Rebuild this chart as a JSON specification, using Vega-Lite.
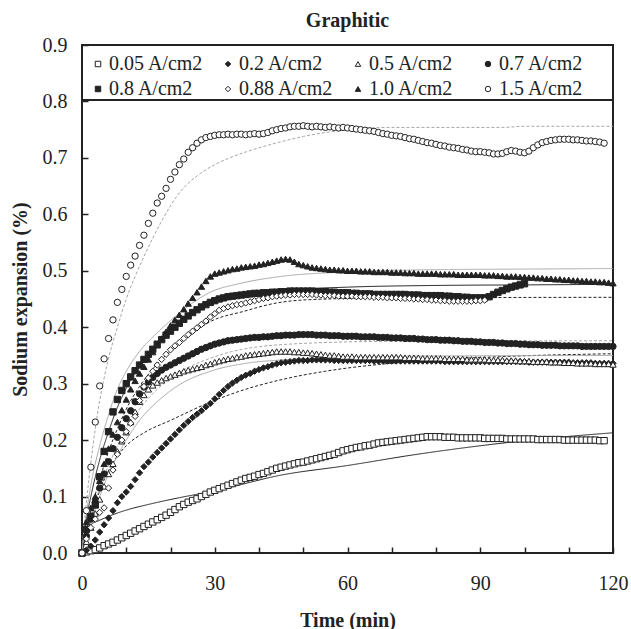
{
"$schema": "https://vega.github.io/schema/vega-lite/v6.json",
"width": 531, "height": 508,
"autosize": {"type": "none"},
"padding": {"left": 82, "top": 45, "right": 18, "bottom": 76},
"background": "white",
"title": {"text": "Graphitic", "font": "Liberation Serif", "fontSize": 20, "fontWeight": "bold", "color": "#222", "offset": 4, "anchor": "middle"},
"datasets": {
"fits": [
{"f":"F005","t":0,"v":0},{"f":"F005","t":0.3,"v":0.025},{"f":"F005","t":1,"v":0.04},{"f":"F005","t":2,"v":0.05},{"f":"F005","t":4,"v":0.058},{"f":"F005","t":7,"v":0.068},{"f":"F005","t":10,"v":0.076},{"f":"F005","t":15,"v":0.086},{"f":"F005","t":22,"v":0.098},{"f":"F005","t":30,"v":0.11},{"f":"F005","t":45,"v":0.138},{"f":"F005","t":60,"v":0.155},{"f":"F005","t":75,"v":0.174},{"f":"F005","t":90,"v":0.19},{"f":"F005","t":105,"v":0.203},{"f":"F005","t":120,"v":0.213},
{"f":"F02","t":0,"v":0},{"f":"F02","t":1,"v":0.03},{"f":"F02","t":2,"v":0.06},{"f":"F02","t":4,"v":0.11},{"f":"F02","t":7,"v":0.16},{"f":"F02","t":10,"v":0.19},{"f":"F02","t":14,"v":0.213},{"f":"F02","t":20,"v":0.235},{"f":"F02","t":28,"v":0.264},{"f":"F02","t":35,"v":0.285},{"f":"F02","t":45,"v":0.307},{"f":"F02","t":55,"v":0.322},{"f":"F02","t":67,"v":0.334},{"f":"F02","t":80,"v":0.342},{"f":"F02","t":95,"v":0.348},{"f":"F02","t":120,"v":0.353},
{"f":"F05","t":0,"v":0},{"f":"F05","t":1,"v":0.03},{"f":"F05","t":2,"v":0.055},{"f":"F05","t":4,"v":0.1},{"f":"F05","t":6,"v":0.14},{"f":"F05","t":8,"v":0.172},{"f":"F05","t":10,"v":0.2},{"f":"F05","t":13,"v":0.235},{"f":"F05","t":17,"v":0.268},{"f":"F05","t":22,"v":0.298},{"f":"F05","t":29,"v":0.322},{"f":"F05","t":37,"v":0.336},{"f":"F05","t":45,"v":0.342},{"f":"F05","t":60,"v":0.347},{"f":"F05","t":80,"v":0.349},{"f":"F05","t":120,"v":0.35},
{"f":"F07","t":0,"v":0},{"f":"F07","t":1,"v":0.035},{"f":"F07","t":2,"v":0.065},{"f":"F07","t":4,"v":0.115},{"f":"F07","t":6,"v":0.155},{"f":"F07","t":8,"v":0.19},{"f":"F07","t":10,"v":0.22},{"f":"F07","t":13,"v":0.255},{"f":"F07","t":17,"v":0.29},{"f":"F07","t":22,"v":0.32},{"f":"F07","t":29,"v":0.345},{"f":"F07","t":37,"v":0.362},{"f":"F07","t":52,"v":0.372},{"f":"F07","t":70,"v":0.375},{"f":"F07","t":120,"v":0.376},
{"f":"F08","t":0,"v":0},{"f":"F08","t":0.5,"v":0.03},{"f":"F08","t":1,"v":0.06},{"f":"F08","t":2,"v":0.1},{"f":"F08","t":4,"v":0.165},{"f":"F08","t":6,"v":0.215},{"f":"F08","t":8,"v":0.258},{"f":"F08","t":10,"v":0.292},{"f":"F08","t":13,"v":0.333},{"f":"F08","t":17,"v":0.373},{"f":"F08","t":22,"v":0.41},{"f":"F08","t":29,"v":0.44},{"f":"F08","t":36,"v":0.455},{"f":"F08","t":45,"v":0.465},{"f":"F08","t":60,"v":0.471},{"f":"F08","t":80,"v":0.474},{"f":"F08","t":100,"v":0.475},{"f":"F08","t":120,"v":0.476},
{"f":"F088","t":0,"v":0},{"f":"F088","t":1,"v":0.04},{"f":"F088","t":2,"v":0.075},{"f":"F088","t":4,"v":0.13},{"f":"F088","t":6,"v":0.18},{"f":"F088","t":8,"v":0.22},{"f":"F088","t":10,"v":0.255},{"f":"F088","t":13,"v":0.295},{"f":"F088","t":17,"v":0.335},{"f":"F088","t":22,"v":0.37},{"f":"F088","t":29,"v":0.41},{"f":"F088","t":36.5,"v":0.428},{"f":"F088","t":44,"v":0.443},{"f":"F088","t":52,"v":0.449},{"f":"F088","t":70,"v":0.452},{"f":"F088","t":120,"v":0.453},
{"f":"F10","t":0,"v":0},{"f":"F10","t":0.5,"v":0.04},{"f":"F10","t":1,"v":0.07},{"f":"F10","t":2,"v":0.12},{"f":"F10","t":4,"v":0.19},{"f":"F10","t":6,"v":0.245},{"f":"F10","t":8,"v":0.29},{"f":"F10","t":10,"v":0.322},{"f":"F10","t":13,"v":0.357},{"f":"F10","t":17,"v":0.39},{"f":"F10","t":22,"v":0.425},{"f":"F10","t":29,"v":0.462},{"f":"F10","t":36,"v":0.478},{"f":"F10","t":45,"v":0.49},{"f":"F10","t":60,"v":0.498},{"f":"F10","t":80,"v":0.502},{"f":"F10","t":100,"v":0.503},{"f":"F10","t":120,"v":0.504},
{"f":"F15","t":0,"v":0},{"f":"F15","t":0.5,"v":0.05},{"f":"F15","t":1,"v":0.09},{"f":"F15","t":2,"v":0.16},{"f":"F15","t":3,"v":0.22},{"f":"F15","t":4,"v":0.27},{"f":"F15","t":5,"v":0.31},{"f":"F15","t":6,"v":0.345},{"f":"F15","t":8,"v":0.4},{"f":"F15","t":10,"v":0.45},{"f":"F15","t":12,"v":0.49},{"f":"F15","t":14,"v":0.525},{"f":"F15","t":16,"v":0.558},{"f":"F15","t":18,"v":0.588},{"f":"F15","t":20,"v":0.615},{"f":"F15","t":22,"v":0.638},{"f":"F15","t":24,"v":0.655},{"f":"F15","t":26.7,"v":0.672},{"f":"F15","t":30,"v":0.688},{"f":"F15","t":33.4,"v":0.7},{"f":"F15","t":38,"v":0.713},{"f":"F15","t":44.7,"v":0.728},{"f":"F15","t":50,"v":0.738},{"f":"F15","t":56,"v":0.746},{"f":"F15","t":62,"v":0.751},{"f":"F15","t":70,"v":0.754},{"f":"F15","t":95,"v":0.754},{"f":"F15","t":100,"v":0.756},{"f":"F15","t":120,"v":0.756}
],
"pts": [
{"s":"0.05 A/cm2","t":0,"v":0},{"s":"0.05 A/cm2","t":1,"v":0.002},{"s":"0.05 A/cm2","t":2,"v":0.004},{"s":"0.05 A/cm2","t":3,"v":0.006},{"s":"0.05 A/cm2","t":4,"v":0.009},{"s":"0.05 A/cm2","t":5,"v":0.013},{"s":"0.05 A/cm2","t":6,"v":0.016},{"s":"0.05 A/cm2","t":7,"v":0.019},{"s":"0.05 A/cm2","t":8,"v":0.023},{"s":"0.05 A/cm2","t":9,"v":0.027},{"s":"0.05 A/cm2","t":10,"v":0.031},{"s":"0.05 A/cm2","t":11,"v":0.035},{"s":"0.05 A/cm2","t":12,"v":0.039},{"s":"0.05 A/cm2","t":13,"v":0.043},{"s":"0.05 A/cm2","t":14,"v":0.047},{"s":"0.05 A/cm2","t":15,"v":0.051},{"s":"0.05 A/cm2","t":16,"v":0.055},{"s":"0.05 A/cm2","t":17,"v":0.059},{"s":"0.05 A/cm2","t":18,"v":0.063},{"s":"0.05 A/cm2","t":19,"v":0.067},{"s":"0.05 A/cm2","t":20,"v":0.072},{"s":"0.05 A/cm2","t":21,"v":0.077},{"s":"0.05 A/cm2","t":22,"v":0.082},{"s":"0.05 A/cm2","t":23,"v":0.086},{"s":"0.05 A/cm2","t":24,"v":0.09},{"s":"0.05 A/cm2","t":25,"v":0.093},{"s":"0.05 A/cm2","t":26,"v":0.096},{"s":"0.05 A/cm2","t":27,"v":0.1},{"s":"0.05 A/cm2","t":28,"v":0.104},{"s":"0.05 A/cm2","t":29,"v":0.108},{"s":"0.05 A/cm2","t":30,"v":0.111},{"s":"0.05 A/cm2","t":31,"v":0.114},{"s":"0.05 A/cm2","t":32,"v":0.117},{"s":"0.05 A/cm2","t":33,"v":0.12},{"s":"0.05 A/cm2","t":34,"v":0.123},{"s":"0.05 A/cm2","t":35,"v":0.126},{"s":"0.05 A/cm2","t":36,"v":0.129},{"s":"0.05 A/cm2","t":37,"v":0.132},{"s":"0.05 A/cm2","t":38,"v":0.134},{"s":"0.05 A/cm2","t":39,"v":0.136},{"s":"0.05 A/cm2","t":40,"v":0.139},{"s":"0.05 A/cm2","t":41,"v":0.141},{"s":"0.05 A/cm2","t":42,"v":0.144},{"s":"0.05 A/cm2","t":43,"v":0.147},{"s":"0.05 A/cm2","t":44,"v":0.15},{"s":"0.05 A/cm2","t":45,"v":0.152},{"s":"0.05 A/cm2","t":46,"v":0.154},{"s":"0.05 A/cm2","t":47,"v":0.156},{"s":"0.05 A/cm2","t":48,"v":0.158},{"s":"0.05 A/cm2","t":49,"v":0.16},{"s":"0.05 A/cm2","t":50,"v":0.161},{"s":"0.05 A/cm2","t":51,"v":0.163},{"s":"0.05 A/cm2","t":52,"v":0.165},{"s":"0.05 A/cm2","t":53,"v":0.167},{"s":"0.05 A/cm2","t":54,"v":0.169},{"s":"0.05 A/cm2","t":55,"v":0.171},{"s":"0.05 A/cm2","t":56,"v":0.173},{"s":"0.05 A/cm2","t":57,"v":0.175},{"s":"0.05 A/cm2","t":58,"v":0.178},{"s":"0.05 A/cm2","t":59,"v":0.181},{"s":"0.05 A/cm2","t":60,"v":0.183},{"s":"0.05 A/cm2","t":61,"v":0.185},{"s":"0.05 A/cm2","t":62,"v":0.187},{"s":"0.05 A/cm2","t":63,"v":0.188},{"s":"0.05 A/cm2","t":64,"v":0.19},{"s":"0.05 A/cm2","t":65,"v":0.191},{"s":"0.05 A/cm2","t":66,"v":0.193},{"s":"0.05 A/cm2","t":67,"v":0.195},{"s":"0.05 A/cm2","t":68,"v":0.196},{"s":"0.05 A/cm2","t":69,"v":0.197},{"s":"0.05 A/cm2","t":70,"v":0.198},{"s":"0.05 A/cm2","t":71,"v":0.199},{"s":"0.05 A/cm2","t":72,"v":0.2},{"s":"0.05 A/cm2","t":73,"v":0.201},{"s":"0.05 A/cm2","t":74,"v":0.202},{"s":"0.05 A/cm2","t":75,"v":0.203},{"s":"0.05 A/cm2","t":76,"v":0.204},{"s":"0.05 A/cm2","t":77,"v":0.205},{"s":"0.05 A/cm2","t":78,"v":0.206},{"s":"0.05 A/cm2","t":79,"v":0.206},{"s":"0.05 A/cm2","t":80,"v":0.206},{"s":"0.05 A/cm2","t":81,"v":0.206},{"s":"0.05 A/cm2","t":82,"v":0.205},{"s":"0.05 A/cm2","t":83,"v":0.205},{"s":"0.05 A/cm2","t":84,"v":0.205},{"s":"0.05 A/cm2","t":85,"v":0.204},{"s":"0.05 A/cm2","t":86,"v":0.204},{"s":"0.05 A/cm2","t":87,"v":0.204},{"s":"0.05 A/cm2","t":88,"v":0.204},{"s":"0.05 A/cm2","t":89,"v":0.204},{"s":"0.05 A/cm2","t":90,"v":0.204},{"s":"0.05 A/cm2","t":91,"v":0.203},{"s":"0.05 A/cm2","t":92,"v":0.203},{"s":"0.05 A/cm2","t":93,"v":0.203},{"s":"0.05 A/cm2","t":94,"v":0.203},{"s":"0.05 A/cm2","t":95,"v":0.203},{"s":"0.05 A/cm2","t":96,"v":0.202},{"s":"0.05 A/cm2","t":97,"v":0.202},{"s":"0.05 A/cm2","t":98,"v":0.202},{"s":"0.05 A/cm2","t":99,"v":0.202},{"s":"0.05 A/cm2","t":100,"v":0.202},{"s":"0.05 A/cm2","t":101,"v":0.202},{"s":"0.05 A/cm2","t":102,"v":0.202},{"s":"0.05 A/cm2","t":103,"v":0.201},{"s":"0.05 A/cm2","t":104,"v":0.201},{"s":"0.05 A/cm2","t":105,"v":0.201},{"s":"0.05 A/cm2","t":106,"v":0.201},{"s":"0.05 A/cm2","t":107,"v":0.201},{"s":"0.05 A/cm2","t":108,"v":0.201},{"s":"0.05 A/cm2","t":109,"v":0.2},{"s":"0.05 A/cm2","t":110,"v":0.2},{"s":"0.05 A/cm2","t":111,"v":0.2},{"s":"0.05 A/cm2","t":112,"v":0.2},{"s":"0.05 A/cm2","t":113,"v":0.2},{"s":"0.05 A/cm2","t":114,"v":0.2},{"s":"0.05 A/cm2","t":115,"v":0.2},{"s":"0.05 A/cm2","t":116,"v":0.2},{"s":"0.05 A/cm2","t":117,"v":0.199},{"s":"0.05 A/cm2","t":118,"v":0.199},
{"s":"0.2 A/cm2","t":0,"v":0},{"s":"0.2 A/cm2","t":1,"v":0.005},{"s":"0.2 A/cm2","t":2,"v":0.012},{"s":"0.2 A/cm2","t":3,"v":0.023},{"s":"0.2 A/cm2","t":4,"v":0.037},{"s":"0.2 A/cm2","t":5,"v":0.05},{"s":"0.2 A/cm2","t":6,"v":0.062},{"s":"0.2 A/cm2","t":7,"v":0.075},{"s":"0.2 A/cm2","t":8,"v":0.089},{"s":"0.2 A/cm2","t":9,"v":0.1},{"s":"0.2 A/cm2","t":10,"v":0.108},{"s":"0.2 A/cm2","t":11,"v":0.118},{"s":"0.2 A/cm2","t":12,"v":0.13},{"s":"0.2 A/cm2","t":13,"v":0.142},{"s":"0.2 A/cm2","t":14,"v":0.153},{"s":"0.2 A/cm2","t":15,"v":0.161},{"s":"0.2 A/cm2","t":16,"v":0.17},{"s":"0.2 A/cm2","t":17,"v":0.178},{"s":"0.2 A/cm2","t":18,"v":0.186},{"s":"0.2 A/cm2","t":19,"v":0.194},{"s":"0.2 A/cm2","t":20,"v":0.202},{"s":"0.2 A/cm2","t":21,"v":0.21},{"s":"0.2 A/cm2","t":22,"v":0.218},{"s":"0.2 A/cm2","t":23,"v":0.226},{"s":"0.2 A/cm2","t":24,"v":0.233},{"s":"0.2 A/cm2","t":25,"v":0.24},{"s":"0.2 A/cm2","t":26,"v":0.246},{"s":"0.2 A/cm2","t":27,"v":0.252},{"s":"0.2 A/cm2","t":28,"v":0.259},{"s":"0.2 A/cm2","t":29,"v":0.265},{"s":"0.2 A/cm2","t":30,"v":0.273},{"s":"0.2 A/cm2","t":31,"v":0.281},{"s":"0.2 A/cm2","t":32,"v":0.288},{"s":"0.2 A/cm2","t":33,"v":0.295},{"s":"0.2 A/cm2","t":34,"v":0.301},{"s":"0.2 A/cm2","t":35,"v":0.306},{"s":"0.2 A/cm2","t":36,"v":0.311},{"s":"0.2 A/cm2","t":37,"v":0.315},{"s":"0.2 A/cm2","t":38,"v":0.318},{"s":"0.2 A/cm2","t":39,"v":0.322},{"s":"0.2 A/cm2","t":40,"v":0.325},{"s":"0.2 A/cm2","t":41,"v":0.328},{"s":"0.2 A/cm2","t":42,"v":0.33},{"s":"0.2 A/cm2","t":43,"v":0.333},{"s":"0.2 A/cm2","t":44,"v":0.335},{"s":"0.2 A/cm2","t":45,"v":0.337},{"s":"0.2 A/cm2","t":46,"v":0.338},{"s":"0.2 A/cm2","t":47,"v":0.339},{"s":"0.2 A/cm2","t":48,"v":0.34},{"s":"0.2 A/cm2","t":49,"v":0.341},{"s":"0.2 A/cm2","t":50,"v":0.341},{"s":"0.2 A/cm2","t":51,"v":0.341},{"s":"0.2 A/cm2","t":52,"v":0.342},{"s":"0.2 A/cm2","t":53,"v":0.342},{"s":"0.2 A/cm2","t":54,"v":0.342},{"s":"0.2 A/cm2","t":55,"v":0.342},{"s":"0.2 A/cm2","t":56,"v":0.342},{"s":"0.2 A/cm2","t":57,"v":0.341},{"s":"0.2 A/cm2","t":58,"v":0.341},{"s":"0.2 A/cm2","t":59,"v":0.341},{"s":"0.2 A/cm2","t":60,"v":0.341},{"s":"0.2 A/cm2","t":61,"v":0.341},{"s":"0.2 A/cm2","t":62,"v":0.341},{"s":"0.2 A/cm2","t":63,"v":0.341},{"s":"0.2 A/cm2","t":64,"v":0.341},{"s":"0.2 A/cm2","t":65,"v":0.341},{"s":"0.2 A/cm2","t":66,"v":0.34},{"s":"0.2 A/cm2","t":67,"v":0.34},{"s":"0.2 A/cm2","t":68,"v":0.34},{"s":"0.2 A/cm2","t":69,"v":0.34},{"s":"0.2 A/cm2","t":70,"v":0.34},{"s":"0.2 A/cm2","t":71,"v":0.34},{"s":"0.2 A/cm2","t":72,"v":0.34},{"s":"0.2 A/cm2","t":73,"v":0.34},{"s":"0.2 A/cm2","t":74,"v":0.34},{"s":"0.2 A/cm2","t":75,"v":0.34},{"s":"0.2 A/cm2","t":76,"v":0.34},{"s":"0.2 A/cm2","t":77,"v":0.34},{"s":"0.2 A/cm2","t":78,"v":0.34},{"s":"0.2 A/cm2","t":79,"v":0.34},{"s":"0.2 A/cm2","t":80,"v":0.34},{"s":"0.2 A/cm2","t":81,"v":0.34},{"s":"0.2 A/cm2","t":82,"v":0.339},{"s":"0.2 A/cm2","t":83,"v":0.339},{"s":"0.2 A/cm2","t":84,"v":0.339},{"s":"0.2 A/cm2","t":85,"v":0.339},{"s":"0.2 A/cm2","t":86,"v":0.339},{"s":"0.2 A/cm2","t":87,"v":0.339},{"s":"0.2 A/cm2","t":88,"v":0.339},{"s":"0.2 A/cm2","t":89,"v":0.339},{"s":"0.2 A/cm2","t":90,"v":0.339},{"s":"0.2 A/cm2","t":91,"v":0.339},{"s":"0.2 A/cm2","t":92,"v":0.339},{"s":"0.2 A/cm2","t":93,"v":0.339},{"s":"0.2 A/cm2","t":94,"v":0.339},{"s":"0.2 A/cm2","t":95,"v":0.339},{"s":"0.2 A/cm2","t":96,"v":0.339},{"s":"0.2 A/cm2","t":97,"v":0.339},{"s":"0.2 A/cm2","t":98,"v":0.339},{"s":"0.2 A/cm2","t":99,"v":0.339},{"s":"0.2 A/cm2","t":100,"v":0.339},{"s":"0.2 A/cm2","t":101,"v":0.338},{"s":"0.2 A/cm2","t":102,"v":0.338},{"s":"0.2 A/cm2","t":103,"v":0.338},{"s":"0.2 A/cm2","t":104,"v":0.338},{"s":"0.2 A/cm2","t":105,"v":0.338},{"s":"0.2 A/cm2","t":106,"v":0.338},{"s":"0.2 A/cm2","t":107,"v":0.338},{"s":"0.2 A/cm2","t":108,"v":0.338},{"s":"0.2 A/cm2","t":109,"v":0.338},{"s":"0.2 A/cm2","t":110,"v":0.338},{"s":"0.2 A/cm2","t":111,"v":0.337},{"s":"0.2 A/cm2","t":112,"v":0.337},{"s":"0.2 A/cm2","t":113,"v":0.337},{"s":"0.2 A/cm2","t":114,"v":0.337},{"s":"0.2 A/cm2","t":115,"v":0.337},{"s":"0.2 A/cm2","t":116,"v":0.336},{"s":"0.2 A/cm2","t":117,"v":0.336},{"s":"0.2 A/cm2","t":118,"v":0.336},{"s":"0.2 A/cm2","t":119,"v":0.336},{"s":"0.2 A/cm2","t":120,"v":0.336},
{"s":"0.5 A/cm2","t":0,"v":0},{"s":"0.5 A/cm2","t":1,"v":0.02},{"s":"0.5 A/cm2","t":2,"v":0.045},{"s":"0.5 A/cm2","t":3,"v":0.07},{"s":"0.5 A/cm2","t":4,"v":0.095},{"s":"0.5 A/cm2","t":5,"v":0.118},{"s":"0.5 A/cm2","t":6,"v":0.14},{"s":"0.5 A/cm2","t":7,"v":0.158},{"s":"0.5 A/cm2","t":8,"v":0.18},{"s":"0.5 A/cm2","t":9,"v":0.198},{"s":"0.5 A/cm2","t":10,"v":0.214},{"s":"0.5 A/cm2","t":11,"v":0.232},{"s":"0.5 A/cm2","t":12,"v":0.25},{"s":"0.5 A/cm2","t":13,"v":0.268},{"s":"0.5 A/cm2","t":14,"v":0.28},{"s":"0.5 A/cm2","t":15,"v":0.29},{"s":"0.5 A/cm2","t":16,"v":0.297},{"s":"0.5 A/cm2","t":17,"v":0.302},{"s":"0.5 A/cm2","t":18,"v":0.306},{"s":"0.5 A/cm2","t":19,"v":0.31},{"s":"0.5 A/cm2","t":20,"v":0.313},{"s":"0.5 A/cm2","t":21,"v":0.316},{"s":"0.5 A/cm2","t":22,"v":0.319},{"s":"0.5 A/cm2","t":23,"v":0.322},{"s":"0.5 A/cm2","t":24,"v":0.324},{"s":"0.5 A/cm2","t":25,"v":0.326},{"s":"0.5 A/cm2","t":26,"v":0.328},{"s":"0.5 A/cm2","t":27,"v":0.33},{"s":"0.5 A/cm2","t":28,"v":0.333},{"s":"0.5 A/cm2","t":29,"v":0.335},{"s":"0.5 A/cm2","t":30,"v":0.338},{"s":"0.5 A/cm2","t":31,"v":0.34},{"s":"0.5 A/cm2","t":32,"v":0.342},{"s":"0.5 A/cm2","t":33,"v":0.344},{"s":"0.5 A/cm2","t":34,"v":0.345},{"s":"0.5 A/cm2","t":35,"v":0.347},{"s":"0.5 A/cm2","t":36,"v":0.348},{"s":"0.5 A/cm2","t":37,"v":0.35},{"s":"0.5 A/cm2","t":38,"v":0.351},{"s":"0.5 A/cm2","t":39,"v":0.352},{"s":"0.5 A/cm2","t":40,"v":0.353},{"s":"0.5 A/cm2","t":41,"v":0.354},{"s":"0.5 A/cm2","t":42,"v":0.355},{"s":"0.5 A/cm2","t":43,"v":0.356},{"s":"0.5 A/cm2","t":44,"v":0.357},{"s":"0.5 A/cm2","t":45,"v":0.357},{"s":"0.5 A/cm2","t":46,"v":0.357},{"s":"0.5 A/cm2","t":47,"v":0.357},{"s":"0.5 A/cm2","t":48,"v":0.356},{"s":"0.5 A/cm2","t":49,"v":0.356},{"s":"0.5 A/cm2","t":50,"v":0.355},{"s":"0.5 A/cm2","t":51,"v":0.355},{"s":"0.5 A/cm2","t":52,"v":0.354},{"s":"0.5 A/cm2","t":53,"v":0.353},{"s":"0.5 A/cm2","t":54,"v":0.352},{"s":"0.5 A/cm2","t":55,"v":0.351},{"s":"0.5 A/cm2","t":56,"v":0.35},{"s":"0.5 A/cm2","t":57,"v":0.35},{"s":"0.5 A/cm2","t":58,"v":0.349},{"s":"0.5 A/cm2","t":59,"v":0.348},{"s":"0.5 A/cm2","t":60,"v":0.348},{"s":"0.5 A/cm2","t":61,"v":0.348},{"s":"0.5 A/cm2","t":62,"v":0.347},{"s":"0.5 A/cm2","t":63,"v":0.347},{"s":"0.5 A/cm2","t":64,"v":0.347},{"s":"0.5 A/cm2","t":65,"v":0.347},{"s":"0.5 A/cm2","t":66,"v":0.347},{"s":"0.5 A/cm2","t":67,"v":0.347},{"s":"0.5 A/cm2","t":68,"v":0.347},{"s":"0.5 A/cm2","t":69,"v":0.347},{"s":"0.5 A/cm2","t":70,"v":0.347},{"s":"0.5 A/cm2","t":71,"v":0.347},{"s":"0.5 A/cm2","t":72,"v":0.347},{"s":"0.5 A/cm2","t":73,"v":0.346},{"s":"0.5 A/cm2","t":74,"v":0.346},{"s":"0.5 A/cm2","t":75,"v":0.346},{"s":"0.5 A/cm2","t":76,"v":0.346},{"s":"0.5 A/cm2","t":77,"v":0.345},{"s":"0.5 A/cm2","t":78,"v":0.345},{"s":"0.5 A/cm2","t":79,"v":0.345},{"s":"0.5 A/cm2","t":80,"v":0.345},{"s":"0.5 A/cm2","t":81,"v":0.345},{"s":"0.5 A/cm2","t":82,"v":0.344},{"s":"0.5 A/cm2","t":83,"v":0.344},{"s":"0.5 A/cm2","t":84,"v":0.344},{"s":"0.5 A/cm2","t":85,"v":0.344},{"s":"0.5 A/cm2","t":86,"v":0.344},{"s":"0.5 A/cm2","t":87,"v":0.343},{"s":"0.5 A/cm2","t":88,"v":0.343},{"s":"0.5 A/cm2","t":89,"v":0.343},{"s":"0.5 A/cm2","t":90,"v":0.343},{"s":"0.5 A/cm2","t":91,"v":0.343},{"s":"0.5 A/cm2","t":92,"v":0.342},{"s":"0.5 A/cm2","t":93,"v":0.342},{"s":"0.5 A/cm2","t":94,"v":0.342},{"s":"0.5 A/cm2","t":95,"v":0.342},{"s":"0.5 A/cm2","t":96,"v":0.341},{"s":"0.5 A/cm2","t":97,"v":0.341},{"s":"0.5 A/cm2","t":98,"v":0.341},{"s":"0.5 A/cm2","t":99,"v":0.34},{"s":"0.5 A/cm2","t":100,"v":0.34},{"s":"0.5 A/cm2","t":101,"v":0.34},{"s":"0.5 A/cm2","t":102,"v":0.339},{"s":"0.5 A/cm2","t":103,"v":0.339},{"s":"0.5 A/cm2","t":104,"v":0.339},{"s":"0.5 A/cm2","t":105,"v":0.339},{"s":"0.5 A/cm2","t":106,"v":0.338},{"s":"0.5 A/cm2","t":107,"v":0.338},{"s":"0.5 A/cm2","t":108,"v":0.338},{"s":"0.5 A/cm2","t":109,"v":0.337},{"s":"0.5 A/cm2","t":110,"v":0.337},{"s":"0.5 A/cm2","t":111,"v":0.337},{"s":"0.5 A/cm2","t":112,"v":0.336},{"s":"0.5 A/cm2","t":113,"v":0.336},{"s":"0.5 A/cm2","t":114,"v":0.336},{"s":"0.5 A/cm2","t":115,"v":0.336},{"s":"0.5 A/cm2","t":116,"v":0.335},{"s":"0.5 A/cm2","t":117,"v":0.335},{"s":"0.5 A/cm2","t":118,"v":0.335},{"s":"0.5 A/cm2","t":119,"v":0.335},{"s":"0.5 A/cm2","t":120,"v":0.334},
{"s":"0.7 A/cm2","t":0,"v":0},{"s":"0.7 A/cm2","t":1,"v":0.03},{"s":"0.7 A/cm2","t":2,"v":0.06},{"s":"0.7 A/cm2","t":3,"v":0.09},{"s":"0.7 A/cm2","t":4,"v":0.115},{"s":"0.7 A/cm2","t":5,"v":0.14},{"s":"0.7 A/cm2","t":6,"v":0.162},{"s":"0.7 A/cm2","t":7,"v":0.185},{"s":"0.7 A/cm2","t":8,"v":0.205},{"s":"0.7 A/cm2","t":9,"v":0.222},{"s":"0.7 A/cm2","t":10,"v":0.238},{"s":"0.7 A/cm2","t":11,"v":0.252},{"s":"0.7 A/cm2","t":12,"v":0.268},{"s":"0.7 A/cm2","t":13,"v":0.282},{"s":"0.7 A/cm2","t":14,"v":0.294},{"s":"0.7 A/cm2","t":15,"v":0.303},{"s":"0.7 A/cm2","t":16,"v":0.311},{"s":"0.7 A/cm2","t":17,"v":0.318},{"s":"0.7 A/cm2","t":18,"v":0.324},{"s":"0.7 A/cm2","t":19,"v":0.329},{"s":"0.7 A/cm2","t":20,"v":0.333},{"s":"0.7 A/cm2","t":21,"v":0.337},{"s":"0.7 A/cm2","t":22,"v":0.341},{"s":"0.7 A/cm2","t":23,"v":0.345},{"s":"0.7 A/cm2","t":24,"v":0.349},{"s":"0.7 A/cm2","t":25,"v":0.353},{"s":"0.7 A/cm2","t":26,"v":0.357},{"s":"0.7 A/cm2","t":27,"v":0.361},{"s":"0.7 A/cm2","t":28,"v":0.364},{"s":"0.7 A/cm2","t":29,"v":0.367},{"s":"0.7 A/cm2","t":30,"v":0.37},{"s":"0.7 A/cm2","t":31,"v":0.372},{"s":"0.7 A/cm2","t":32,"v":0.374},{"s":"0.7 A/cm2","t":33,"v":0.376},{"s":"0.7 A/cm2","t":34,"v":0.377},{"s":"0.7 A/cm2","t":35,"v":0.378},{"s":"0.7 A/cm2","t":36,"v":0.379},{"s":"0.7 A/cm2","t":37,"v":0.38},{"s":"0.7 A/cm2","t":38,"v":0.381},{"s":"0.7 A/cm2","t":39,"v":0.382},{"s":"0.7 A/cm2","t":40,"v":0.382},{"s":"0.7 A/cm2","t":41,"v":0.383},{"s":"0.7 A/cm2","t":42,"v":0.383},{"s":"0.7 A/cm2","t":43,"v":0.384},{"s":"0.7 A/cm2","t":44,"v":0.385},{"s":"0.7 A/cm2","t":45,"v":0.385},{"s":"0.7 A/cm2","t":46,"v":0.386},{"s":"0.7 A/cm2","t":47,"v":0.386},{"s":"0.7 A/cm2","t":48,"v":0.386},{"s":"0.7 A/cm2","t":49,"v":0.387},{"s":"0.7 A/cm2","t":50,"v":0.387},{"s":"0.7 A/cm2","t":51,"v":0.387},{"s":"0.7 A/cm2","t":52,"v":0.387},{"s":"0.7 A/cm2","t":53,"v":0.386},{"s":"0.7 A/cm2","t":54,"v":0.386},{"s":"0.7 A/cm2","t":55,"v":0.386},{"s":"0.7 A/cm2","t":56,"v":0.385},{"s":"0.7 A/cm2","t":57,"v":0.385},{"s":"0.7 A/cm2","t":58,"v":0.385},{"s":"0.7 A/cm2","t":59,"v":0.384},{"s":"0.7 A/cm2","t":60,"v":0.384},{"s":"0.7 A/cm2","t":61,"v":0.384},{"s":"0.7 A/cm2","t":62,"v":0.384},{"s":"0.7 A/cm2","t":63,"v":0.383},{"s":"0.7 A/cm2","t":64,"v":0.383},{"s":"0.7 A/cm2","t":65,"v":0.383},{"s":"0.7 A/cm2","t":66,"v":0.383},{"s":"0.7 A/cm2","t":67,"v":0.382},{"s":"0.7 A/cm2","t":68,"v":0.382},{"s":"0.7 A/cm2","t":69,"v":0.382},{"s":"0.7 A/cm2","t":70,"v":0.381},{"s":"0.7 A/cm2","t":71,"v":0.381},{"s":"0.7 A/cm2","t":72,"v":0.381},{"s":"0.7 A/cm2","t":73,"v":0.38},{"s":"0.7 A/cm2","t":74,"v":0.38},{"s":"0.7 A/cm2","t":75,"v":0.38},{"s":"0.7 A/cm2","t":76,"v":0.379},{"s":"0.7 A/cm2","t":77,"v":0.379},{"s":"0.7 A/cm2","t":78,"v":0.378},{"s":"0.7 A/cm2","t":79,"v":0.378},{"s":"0.7 A/cm2","t":80,"v":0.378},{"s":"0.7 A/cm2","t":81,"v":0.377},{"s":"0.7 A/cm2","t":82,"v":0.377},{"s":"0.7 A/cm2","t":83,"v":0.377},{"s":"0.7 A/cm2","t":84,"v":0.376},{"s":"0.7 A/cm2","t":85,"v":0.376},{"s":"0.7 A/cm2","t":86,"v":0.375},{"s":"0.7 A/cm2","t":87,"v":0.375},{"s":"0.7 A/cm2","t":88,"v":0.375},{"s":"0.7 A/cm2","t":89,"v":0.374},{"s":"0.7 A/cm2","t":90,"v":0.374},{"s":"0.7 A/cm2","t":91,"v":0.373},{"s":"0.7 A/cm2","t":92,"v":0.373},{"s":"0.7 A/cm2","t":93,"v":0.373},{"s":"0.7 A/cm2","t":94,"v":0.372},{"s":"0.7 A/cm2","t":95,"v":0.372},{"s":"0.7 A/cm2","t":96,"v":0.371},{"s":"0.7 A/cm2","t":97,"v":0.371},{"s":"0.7 A/cm2","t":98,"v":0.371},{"s":"0.7 A/cm2","t":99,"v":0.37},{"s":"0.7 A/cm2","t":100,"v":0.37},{"s":"0.7 A/cm2","t":101,"v":0.369},{"s":"0.7 A/cm2","t":102,"v":0.369},{"s":"0.7 A/cm2","t":103,"v":0.369},{"s":"0.7 A/cm2","t":104,"v":0.368},{"s":"0.7 A/cm2","t":105,"v":0.368},{"s":"0.7 A/cm2","t":106,"v":0.368},{"s":"0.7 A/cm2","t":107,"v":0.368},{"s":"0.7 A/cm2","t":108,"v":0.367},{"s":"0.7 A/cm2","t":109,"v":0.367},{"s":"0.7 A/cm2","t":110,"v":0.367},{"s":"0.7 A/cm2","t":111,"v":0.367},{"s":"0.7 A/cm2","t":112,"v":0.367},{"s":"0.7 A/cm2","t":113,"v":0.366},{"s":"0.7 A/cm2","t":114,"v":0.366},{"s":"0.7 A/cm2","t":115,"v":0.366},{"s":"0.7 A/cm2","t":116,"v":0.366},{"s":"0.7 A/cm2","t":117,"v":0.366},{"s":"0.7 A/cm2","t":118,"v":0.366},{"s":"0.7 A/cm2","t":119,"v":0.366},{"s":"0.7 A/cm2","t":120,"v":0.366},
{"s":"0.8 A/cm2","t":0,"v":0},{"s":"0.8 A/cm2","t":1,"v":0.042},{"s":"0.8 A/cm2","t":2,"v":0.065},{"s":"0.8 A/cm2","t":3,"v":0.085},{"s":"0.8 A/cm2","t":4,"v":0.135},{"s":"0.8 A/cm2","t":5,"v":0.18},{"s":"0.8 A/cm2","t":6,"v":0.215},{"s":"0.8 A/cm2","t":7,"v":0.25},{"s":"0.8 A/cm2","t":8,"v":0.272},{"s":"0.8 A/cm2","t":9,"v":0.288},{"s":"0.8 A/cm2","t":10,"v":0.3},{"s":"0.8 A/cm2","t":11,"v":0.312},{"s":"0.8 A/cm2","t":12,"v":0.323},{"s":"0.8 A/cm2","t":13,"v":0.333},{"s":"0.8 A/cm2","t":14,"v":0.343},{"s":"0.8 A/cm2","t":15,"v":0.352},{"s":"0.8 A/cm2","t":16,"v":0.361},{"s":"0.8 A/cm2","t":17,"v":0.37},{"s":"0.8 A/cm2","t":18,"v":0.378},{"s":"0.8 A/cm2","t":19,"v":0.386},{"s":"0.8 A/cm2","t":20,"v":0.393},{"s":"0.8 A/cm2","t":21,"v":0.4},{"s":"0.8 A/cm2","t":22,"v":0.407},{"s":"0.8 A/cm2","t":23,"v":0.414},{"s":"0.8 A/cm2","t":24,"v":0.42},{"s":"0.8 A/cm2","t":25,"v":0.426},{"s":"0.8 A/cm2","t":26,"v":0.431},{"s":"0.8 A/cm2","t":27,"v":0.436},{"s":"0.8 A/cm2","t":28,"v":0.44},{"s":"0.8 A/cm2","t":29,"v":0.444},{"s":"0.8 A/cm2","t":30,"v":0.447},{"s":"0.8 A/cm2","t":31,"v":0.45},{"s":"0.8 A/cm2","t":32,"v":0.452},{"s":"0.8 A/cm2","t":33,"v":0.454},{"s":"0.8 A/cm2","t":34,"v":0.455},{"s":"0.8 A/cm2","t":35,"v":0.456},{"s":"0.8 A/cm2","t":36,"v":0.457},{"s":"0.8 A/cm2","t":37,"v":0.458},{"s":"0.8 A/cm2","t":38,"v":0.459},{"s":"0.8 A/cm2","t":39,"v":0.46},{"s":"0.8 A/cm2","t":40,"v":0.46},{"s":"0.8 A/cm2","t":41,"v":0.461},{"s":"0.8 A/cm2","t":42,"v":0.461},{"s":"0.8 A/cm2","t":43,"v":0.462},{"s":"0.8 A/cm2","t":44,"v":0.462},{"s":"0.8 A/cm2","t":45,"v":0.463},{"s":"0.8 A/cm2","t":46,"v":0.463},{"s":"0.8 A/cm2","t":47,"v":0.464},{"s":"0.8 A/cm2","t":48,"v":0.464},{"s":"0.8 A/cm2","t":49,"v":0.464},{"s":"0.8 A/cm2","t":50,"v":0.464},{"s":"0.8 A/cm2","t":51,"v":0.464},{"s":"0.8 A/cm2","t":52,"v":0.464},{"s":"0.8 A/cm2","t":53,"v":0.463},{"s":"0.8 A/cm2","t":54,"v":0.463},{"s":"0.8 A/cm2","t":55,"v":0.463},{"s":"0.8 A/cm2","t":56,"v":0.462},{"s":"0.8 A/cm2","t":57,"v":0.462},{"s":"0.8 A/cm2","t":58,"v":0.461},{"s":"0.8 A/cm2","t":59,"v":0.461},{"s":"0.8 A/cm2","t":60,"v":0.461},{"s":"0.8 A/cm2","t":61,"v":0.46},{"s":"0.8 A/cm2","t":62,"v":0.46},{"s":"0.8 A/cm2","t":63,"v":0.459},{"s":"0.8 A/cm2","t":64,"v":0.459},{"s":"0.8 A/cm2","t":65,"v":0.459},{"s":"0.8 A/cm2","t":66,"v":0.458},{"s":"0.8 A/cm2","t":67,"v":0.458},{"s":"0.8 A/cm2","t":68,"v":0.458},{"s":"0.8 A/cm2","t":69,"v":0.458},{"s":"0.8 A/cm2","t":70,"v":0.458},{"s":"0.8 A/cm2","t":71,"v":0.458},{"s":"0.8 A/cm2","t":72,"v":0.458},{"s":"0.8 A/cm2","t":73,"v":0.458},{"s":"0.8 A/cm2","t":74,"v":0.457},{"s":"0.8 A/cm2","t":75,"v":0.457},{"s":"0.8 A/cm2","t":76,"v":0.457},{"s":"0.8 A/cm2","t":77,"v":0.456},{"s":"0.8 A/cm2","t":78,"v":0.456},{"s":"0.8 A/cm2","t":79,"v":0.456},{"s":"0.8 A/cm2","t":80,"v":0.456},{"s":"0.8 A/cm2","t":81,"v":0.456},{"s":"0.8 A/cm2","t":82,"v":0.455},{"s":"0.8 A/cm2","t":83,"v":0.455},{"s":"0.8 A/cm2","t":84,"v":0.454},{"s":"0.8 A/cm2","t":85,"v":0.454},{"s":"0.8 A/cm2","t":86,"v":0.453},{"s":"0.8 A/cm2","t":87,"v":0.453},{"s":"0.8 A/cm2","t":88,"v":0.452},{"s":"0.8 A/cm2","t":89,"v":0.452},{"s":"0.8 A/cm2","t":90,"v":0.452},{"s":"0.8 A/cm2","t":91,"v":0.452},{"s":"0.8 A/cm2","t":92,"v":0.454},{"s":"0.8 A/cm2","t":93,"v":0.458},{"s":"0.8 A/cm2","t":94,"v":0.462},{"s":"0.8 A/cm2","t":95,"v":0.465},{"s":"0.8 A/cm2","t":96,"v":0.468},{"s":"0.8 A/cm2","t":97,"v":0.471},{"s":"0.8 A/cm2","t":98,"v":0.473},{"s":"0.8 A/cm2","t":99,"v":0.475},{"s":"0.8 A/cm2","t":100,"v":0.477},
{"s":"0.88 A/cm2","t":0,"v":0},{"s":"0.88 A/cm2","t":1,"v":0.025},{"s":"0.88 A/cm2","t":2,"v":0.045},{"s":"0.88 A/cm2","t":3,"v":0.06},{"s":"0.88 A/cm2","t":4,"v":0.072},{"s":"0.88 A/cm2","t":5,"v":0.08},{"s":"0.88 A/cm2","t":6,"v":0.115},{"s":"0.88 A/cm2","t":7,"v":0.147},{"s":"0.88 A/cm2","t":8,"v":0.175},{"s":"0.88 A/cm2","t":9,"v":0.2},{"s":"0.88 A/cm2","t":10,"v":0.215},{"s":"0.88 A/cm2","t":11,"v":0.23},{"s":"0.88 A/cm2","t":12,"v":0.242},{"s":"0.88 A/cm2","t":13,"v":0.27},{"s":"0.88 A/cm2","t":14,"v":0.295},{"s":"0.88 A/cm2","t":15,"v":0.31},{"s":"0.88 A/cm2","t":16,"v":0.322},{"s":"0.88 A/cm2","t":17,"v":0.333},{"s":"0.88 A/cm2","t":18,"v":0.343},{"s":"0.88 A/cm2","t":19,"v":0.352},{"s":"0.88 A/cm2","t":20,"v":0.36},{"s":"0.88 A/cm2","t":21,"v":0.367},{"s":"0.88 A/cm2","t":22,"v":0.373},{"s":"0.88 A/cm2","t":23,"v":0.38},{"s":"0.88 A/cm2","t":24,"v":0.387},{"s":"0.88 A/cm2","t":25,"v":0.393},{"s":"0.88 A/cm2","t":26,"v":0.399},{"s":"0.88 A/cm2","t":27,"v":0.405},{"s":"0.88 A/cm2","t":28,"v":0.411},{"s":"0.88 A/cm2","t":29,"v":0.418},{"s":"0.88 A/cm2","t":30,"v":0.424},{"s":"0.88 A/cm2","t":31,"v":0.43},{"s":"0.88 A/cm2","t":32,"v":0.433},{"s":"0.88 A/cm2","t":33,"v":0.436},{"s":"0.88 A/cm2","t":34,"v":0.438},{"s":"0.88 A/cm2","t":35,"v":0.44},{"s":"0.88 A/cm2","t":36,"v":0.441},{"s":"0.88 A/cm2","t":37,"v":0.443},{"s":"0.88 A/cm2","t":38,"v":0.445},{"s":"0.88 A/cm2","t":39,"v":0.447},{"s":"0.88 A/cm2","t":40,"v":0.449},{"s":"0.88 A/cm2","t":41,"v":0.451},{"s":"0.88 A/cm2","t":42,"v":0.452},{"s":"0.88 A/cm2","t":43,"v":0.454},{"s":"0.88 A/cm2","t":44,"v":0.455},{"s":"0.88 A/cm2","t":45,"v":0.456},{"s":"0.88 A/cm2","t":46,"v":0.457},{"s":"0.88 A/cm2","t":47,"v":0.457},{"s":"0.88 A/cm2","t":48,"v":0.458},{"s":"0.88 A/cm2","t":49,"v":0.458},{"s":"0.88 A/cm2","t":50,"v":0.458},{"s":"0.88 A/cm2","t":51,"v":0.458},{"s":"0.88 A/cm2","t":52,"v":0.458},{"s":"0.88 A/cm2","t":53,"v":0.457},{"s":"0.88 A/cm2","t":54,"v":0.457},{"s":"0.88 A/cm2","t":55,"v":0.456},{"s":"0.88 A/cm2","t":56,"v":0.456},{"s":"0.88 A/cm2","t":57,"v":0.456},{"s":"0.88 A/cm2","t":58,"v":0.455},{"s":"0.88 A/cm2","t":59,"v":0.455},{"s":"0.88 A/cm2","t":60,"v":0.455},{"s":"0.88 A/cm2","t":61,"v":0.455},{"s":"0.88 A/cm2","t":62,"v":0.454},{"s":"0.88 A/cm2","t":63,"v":0.454},{"s":"0.88 A/cm2","t":64,"v":0.454},{"s":"0.88 A/cm2","t":65,"v":0.454},{"s":"0.88 A/cm2","t":66,"v":0.453},{"s":"0.88 A/cm2","t":67,"v":0.453},{"s":"0.88 A/cm2","t":68,"v":0.453},{"s":"0.88 A/cm2","t":69,"v":0.452},{"s":"0.88 A/cm2","t":70,"v":0.452},{"s":"0.88 A/cm2","t":71,"v":0.452},{"s":"0.88 A/cm2","t":72,"v":0.451},{"s":"0.88 A/cm2","t":73,"v":0.451},{"s":"0.88 A/cm2","t":74,"v":0.451},{"s":"0.88 A/cm2","t":75,"v":0.45},{"s":"0.88 A/cm2","t":76,"v":0.45},{"s":"0.88 A/cm2","t":77,"v":0.449},{"s":"0.88 A/cm2","t":78,"v":0.449},{"s":"0.88 A/cm2","t":79,"v":0.448},{"s":"0.88 A/cm2","t":80,"v":0.448},{"s":"0.88 A/cm2","t":81,"v":0.447},{"s":"0.88 A/cm2","t":82,"v":0.447},{"s":"0.88 A/cm2","t":83,"v":0.446},{"s":"0.88 A/cm2","t":84,"v":0.446},{"s":"0.88 A/cm2","t":85,"v":0.446},{"s":"0.88 A/cm2","t":86,"v":0.446},{"s":"0.88 A/cm2","t":87,"v":0.446},{"s":"0.88 A/cm2","t":88,"v":0.446},{"s":"0.88 A/cm2","t":89,"v":0.447},{"s":"0.88 A/cm2","t":90,"v":0.447},{"s":"0.88 A/cm2","t":91,"v":0.448},
{"s":"1.0 A/cm2","t":0,"v":0},{"s":"1.0 A/cm2","t":1,"v":0.055},{"s":"1.0 A/cm2","t":2,"v":0.08},{"s":"1.0 A/cm2","t":3,"v":0.1},{"s":"1.0 A/cm2","t":4,"v":0.128},{"s":"1.0 A/cm2","t":5,"v":0.158},{"s":"1.0 A/cm2","t":6,"v":0.185},{"s":"1.0 A/cm2","t":7,"v":0.21},{"s":"1.0 A/cm2","t":8,"v":0.232},{"s":"1.0 A/cm2","t":9,"v":0.253},{"s":"1.0 A/cm2","t":10,"v":0.272},{"s":"1.0 A/cm2","t":11,"v":0.29},{"s":"1.0 A/cm2","t":12,"v":0.305},{"s":"1.0 A/cm2","t":13,"v":0.318},{"s":"1.0 A/cm2","t":14,"v":0.33},{"s":"1.0 A/cm2","t":15,"v":0.343},{"s":"1.0 A/cm2","t":16,"v":0.356},{"s":"1.0 A/cm2","t":17,"v":0.368},{"s":"1.0 A/cm2","t":18,"v":0.38},{"s":"1.0 A/cm2","t":19,"v":0.392},{"s":"1.0 A/cm2","t":20,"v":0.403},{"s":"1.0 A/cm2","t":21,"v":0.413},{"s":"1.0 A/cm2","t":22,"v":0.422},{"s":"1.0 A/cm2","t":23,"v":0.432},{"s":"1.0 A/cm2","t":24,"v":0.442},{"s":"1.0 A/cm2","t":25,"v":0.452},{"s":"1.0 A/cm2","t":26,"v":0.462},{"s":"1.0 A/cm2","t":27,"v":0.472},{"s":"1.0 A/cm2","t":28,"v":0.482},{"s":"1.0 A/cm2","t":29,"v":0.49},{"s":"1.0 A/cm2","t":30,"v":0.495},{"s":"1.0 A/cm2","t":31,"v":0.497},{"s":"1.0 A/cm2","t":32,"v":0.499},{"s":"1.0 A/cm2","t":33,"v":0.501},{"s":"1.0 A/cm2","t":34,"v":0.503},{"s":"1.0 A/cm2","t":35,"v":0.504},{"s":"1.0 A/cm2","t":36,"v":0.506},{"s":"1.0 A/cm2","t":37,"v":0.507},{"s":"1.0 A/cm2","t":38,"v":0.508},{"s":"1.0 A/cm2","t":39,"v":0.509},{"s":"1.0 A/cm2","t":40,"v":0.511},{"s":"1.0 A/cm2","t":41,"v":0.512},{"s":"1.0 A/cm2","t":42,"v":0.514},{"s":"1.0 A/cm2","t":43,"v":0.516},{"s":"1.0 A/cm2","t":44,"v":0.518},{"s":"1.0 A/cm2","t":45,"v":0.52},{"s":"1.0 A/cm2","t":46,"v":0.521},{"s":"1.0 A/cm2","t":47,"v":0.52},{"s":"1.0 A/cm2","t":48,"v":0.516},{"s":"1.0 A/cm2","t":49,"v":0.512},{"s":"1.0 A/cm2","t":50,"v":0.51},{"s":"1.0 A/cm2","t":51,"v":0.508},{"s":"1.0 A/cm2","t":52,"v":0.506},{"s":"1.0 A/cm2","t":53,"v":0.505},{"s":"1.0 A/cm2","t":54,"v":0.504},{"s":"1.0 A/cm2","t":55,"v":0.503},{"s":"1.0 A/cm2","t":56,"v":0.502},{"s":"1.0 A/cm2","t":57,"v":0.502},{"s":"1.0 A/cm2","t":58,"v":0.501},{"s":"1.0 A/cm2","t":59,"v":0.501},{"s":"1.0 A/cm2","t":60,"v":0.5},{"s":"1.0 A/cm2","t":61,"v":0.5},{"s":"1.0 A/cm2","t":62,"v":0.5},{"s":"1.0 A/cm2","t":63,"v":0.499},{"s":"1.0 A/cm2","t":64,"v":0.499},{"s":"1.0 A/cm2","t":65,"v":0.499},{"s":"1.0 A/cm2","t":66,"v":0.498},{"s":"1.0 A/cm2","t":67,"v":0.498},{"s":"1.0 A/cm2","t":68,"v":0.498},{"s":"1.0 A/cm2","t":69,"v":0.498},{"s":"1.0 A/cm2","t":70,"v":0.497},{"s":"1.0 A/cm2","t":71,"v":0.497},{"s":"1.0 A/cm2","t":72,"v":0.497},{"s":"1.0 A/cm2","t":73,"v":0.496},{"s":"1.0 A/cm2","t":74,"v":0.496},{"s":"1.0 A/cm2","t":75,"v":0.496},{"s":"1.0 A/cm2","t":76,"v":0.495},{"s":"1.0 A/cm2","t":77,"v":0.495},{"s":"1.0 A/cm2","t":78,"v":0.495},{"s":"1.0 A/cm2","t":79,"v":0.495},{"s":"1.0 A/cm2","t":80,"v":0.495},{"s":"1.0 A/cm2","t":81,"v":0.494},{"s":"1.0 A/cm2","t":82,"v":0.494},{"s":"1.0 A/cm2","t":83,"v":0.494},{"s":"1.0 A/cm2","t":84,"v":0.494},{"s":"1.0 A/cm2","t":85,"v":0.493},{"s":"1.0 A/cm2","t":86,"v":0.493},{"s":"1.0 A/cm2","t":87,"v":0.493},{"s":"1.0 A/cm2","t":88,"v":0.493},{"s":"1.0 A/cm2","t":89,"v":0.493},{"s":"1.0 A/cm2","t":90,"v":0.493},{"s":"1.0 A/cm2","t":91,"v":0.492},{"s":"1.0 A/cm2","t":92,"v":0.492},{"s":"1.0 A/cm2","t":93,"v":0.492},{"s":"1.0 A/cm2","t":94,"v":0.491},{"s":"1.0 A/cm2","t":95,"v":0.491},{"s":"1.0 A/cm2","t":96,"v":0.49},{"s":"1.0 A/cm2","t":97,"v":0.49},{"s":"1.0 A/cm2","t":98,"v":0.49},{"s":"1.0 A/cm2","t":99,"v":0.489},{"s":"1.0 A/cm2","t":100,"v":0.489},{"s":"1.0 A/cm2","t":101,"v":0.488},{"s":"1.0 A/cm2","t":102,"v":0.488},{"s":"1.0 A/cm2","t":103,"v":0.487},{"s":"1.0 A/cm2","t":104,"v":0.487},{"s":"1.0 A/cm2","t":105,"v":0.486},{"s":"1.0 A/cm2","t":106,"v":0.486},{"s":"1.0 A/cm2","t":107,"v":0.485},{"s":"1.0 A/cm2","t":108,"v":0.485},{"s":"1.0 A/cm2","t":109,"v":0.484},{"s":"1.0 A/cm2","t":110,"v":0.484},{"s":"1.0 A/cm2","t":111,"v":0.483},{"s":"1.0 A/cm2","t":112,"v":0.483},{"s":"1.0 A/cm2","t":113,"v":0.482},{"s":"1.0 A/cm2","t":114,"v":0.482},{"s":"1.0 A/cm2","t":115,"v":0.481},{"s":"1.0 A/cm2","t":116,"v":0.481},{"s":"1.0 A/cm2","t":117,"v":0.48},{"s":"1.0 A/cm2","t":118,"v":0.48},{"s":"1.0 A/cm2","t":119,"v":0.479},{"s":"1.0 A/cm2","t":120,"v":0.478},
{"s":"1.5 A/cm2","t":0,"v":0},{"s":"1.5 A/cm2","t":1,"v":0.075},{"s":"1.5 A/cm2","t":2,"v":0.152},{"s":"1.5 A/cm2","t":3,"v":0.232},{"s":"1.5 A/cm2","t":4,"v":0.296},{"s":"1.5 A/cm2","t":5,"v":0.344},{"s":"1.5 A/cm2","t":6,"v":0.38},{"s":"1.5 A/cm2","t":7,"v":0.413},{"s":"1.5 A/cm2","t":8,"v":0.444},{"s":"1.5 A/cm2","t":9,"v":0.467},{"s":"1.5 A/cm2","t":10,"v":0.49},{"s":"1.5 A/cm2","t":11,"v":0.51},{"s":"1.5 A/cm2","t":12,"v":0.526},{"s":"1.5 A/cm2","t":13,"v":0.545},{"s":"1.5 A/cm2","t":14,"v":0.563},{"s":"1.5 A/cm2","t":15,"v":0.584},{"s":"1.5 A/cm2","t":16,"v":0.602},{"s":"1.5 A/cm2","t":17,"v":0.62},{"s":"1.5 A/cm2","t":18,"v":0.632},{"s":"1.5 A/cm2","t":19,"v":0.646},{"s":"1.5 A/cm2","t":20,"v":0.662},{"s":"1.5 A/cm2","t":21,"v":0.675},{"s":"1.5 A/cm2","t":22,"v":0.688},{"s":"1.5 A/cm2","t":23,"v":0.698},{"s":"1.5 A/cm2","t":24,"v":0.71},{"s":"1.5 A/cm2","t":25,"v":0.718},{"s":"1.5 A/cm2","t":26,"v":0.726},{"s":"1.5 A/cm2","t":27,"v":0.732},{"s":"1.5 A/cm2","t":28,"v":0.736},{"s":"1.5 A/cm2","t":29,"v":0.738},{"s":"1.5 A/cm2","t":30,"v":0.74},{"s":"1.5 A/cm2","t":31,"v":0.741},{"s":"1.5 A/cm2","t":32,"v":0.741},{"s":"1.5 A/cm2","t":33,"v":0.742},{"s":"1.5 A/cm2","t":34,"v":0.741},{"s":"1.5 A/cm2","t":35,"v":0.742},{"s":"1.5 A/cm2","t":36,"v":0.742},{"s":"1.5 A/cm2","t":37,"v":0.741},{"s":"1.5 A/cm2","t":38,"v":0.742},{"s":"1.5 A/cm2","t":39,"v":0.743},{"s":"1.5 A/cm2","t":40,"v":0.742},{"s":"1.5 A/cm2","t":41,"v":0.743},{"s":"1.5 A/cm2","t":42,"v":0.745},{"s":"1.5 A/cm2","t":43,"v":0.748},{"s":"1.5 A/cm2","t":44,"v":0.75},{"s":"1.5 A/cm2","t":45,"v":0.752},{"s":"1.5 A/cm2","t":46,"v":0.753},{"s":"1.5 A/cm2","t":47,"v":0.755},{"s":"1.5 A/cm2","t":48,"v":0.756},{"s":"1.5 A/cm2","t":49,"v":0.756},{"s":"1.5 A/cm2","t":50,"v":0.757},{"s":"1.5 A/cm2","t":51,"v":0.756},{"s":"1.5 A/cm2","t":52,"v":0.755},{"s":"1.5 A/cm2","t":53,"v":0.756},{"s":"1.5 A/cm2","t":54,"v":0.755},{"s":"1.5 A/cm2","t":55,"v":0.754},{"s":"1.5 A/cm2","t":56,"v":0.755},{"s":"1.5 A/cm2","t":57,"v":0.754},{"s":"1.5 A/cm2","t":58,"v":0.753},{"s":"1.5 A/cm2","t":59,"v":0.754},{"s":"1.5 A/cm2","t":60,"v":0.753},{"s":"1.5 A/cm2","t":61,"v":0.752},{"s":"1.5 A/cm2","t":62,"v":0.751},{"s":"1.5 A/cm2","t":63,"v":0.75},{"s":"1.5 A/cm2","t":64,"v":0.749},{"s":"1.5 A/cm2","t":65,"v":0.748},{"s":"1.5 A/cm2","t":66,"v":0.747},{"s":"1.5 A/cm2","t":67,"v":0.745},{"s":"1.5 A/cm2","t":68,"v":0.743},{"s":"1.5 A/cm2","t":69,"v":0.742},{"s":"1.5 A/cm2","t":70,"v":0.74},{"s":"1.5 A/cm2","t":71,"v":0.739},{"s":"1.5 A/cm2","t":72,"v":0.738},{"s":"1.5 A/cm2","t":73,"v":0.736},{"s":"1.5 A/cm2","t":74,"v":0.734},{"s":"1.5 A/cm2","t":75,"v":0.733},{"s":"1.5 A/cm2","t":76,"v":0.731},{"s":"1.5 A/cm2","t":77,"v":0.729},{"s":"1.5 A/cm2","t":78,"v":0.727},{"s":"1.5 A/cm2","t":79,"v":0.726},{"s":"1.5 A/cm2","t":80,"v":0.724},{"s":"1.5 A/cm2","t":81,"v":0.722},{"s":"1.5 A/cm2","t":82,"v":0.721},{"s":"1.5 A/cm2","t":83,"v":0.719},{"s":"1.5 A/cm2","t":84,"v":0.718},{"s":"1.5 A/cm2","t":85,"v":0.717},{"s":"1.5 A/cm2","t":86,"v":0.715},{"s":"1.5 A/cm2","t":87,"v":0.714},{"s":"1.5 A/cm2","t":88,"v":0.712},{"s":"1.5 A/cm2","t":89,"v":0.711},{"s":"1.5 A/cm2","t":90,"v":0.711},{"s":"1.5 A/cm2","t":91,"v":0.71},{"s":"1.5 A/cm2","t":92,"v":0.709},{"s":"1.5 A/cm2","t":93,"v":0.707},{"s":"1.5 A/cm2","t":94,"v":0.707},{"s":"1.5 A/cm2","t":95,"v":0.708},{"s":"1.5 A/cm2","t":96,"v":0.711},{"s":"1.5 A/cm2","t":97,"v":0.713},{"s":"1.5 A/cm2","t":98,"v":0.712},{"s":"1.5 A/cm2","t":99,"v":0.71},{"s":"1.5 A/cm2","t":100,"v":0.709},{"s":"1.5 A/cm2","t":101,"v":0.712},{"s":"1.5 A/cm2","t":102,"v":0.718},{"s":"1.5 A/cm2","t":103,"v":0.723},{"s":"1.5 A/cm2","t":104,"v":0.727},{"s":"1.5 A/cm2","t":105,"v":0.729},{"s":"1.5 A/cm2","t":106,"v":0.731},{"s":"1.5 A/cm2","t":107,"v":0.732},{"s":"1.5 A/cm2","t":108,"v":0.733},{"s":"1.5 A/cm2","t":109,"v":0.733},{"s":"1.5 A/cm2","t":110,"v":0.733},{"s":"1.5 A/cm2","t":111,"v":0.732},{"s":"1.5 A/cm2","t":112,"v":0.732},{"s":"1.5 A/cm2","t":113,"v":0.731},{"s":"1.5 A/cm2","t":114,"v":0.73},{"s":"1.5 A/cm2","t":115,"v":0.73},{"s":"1.5 A/cm2","t":116,"v":0.729},{"s":"1.5 A/cm2","t":117,"v":0.728},{"s":"1.5 A/cm2","t":118,"v":0.726}
]
},
"config": {
"view": {"stroke": "#222", "strokeWidth": 2},
"font": "Liberation Serif",
"axis": {"grid": false, "domain": false, "labelFont": "Liberation Serif", "labelFontSize": 20, "labelColor": "#222", "titleFont": "Liberation Serif", "titleFontSize": 20, "titleFontWeight": "bold", "titleColor": "#222", "tickColor": "#222", "tickWidth": 1.5, "tickSize": -6, "labelFlush": false, "labelOverlap": false},
"legend": {"orient": "none", "direction": "horizontal", "legendX": 6, "legendY": 9, "columns": 4, "gridAlign": "all", "columnPadding": 14, "rowPadding": 5, "labelOffset": 1, "labelFont": "Liberation Serif", "labelFontSize": 20, "labelColor": "#222", "symbolSize": 30, "symbolStrokeWidth": 1, "padding": 0, "title": null}
},
"layer": [
{"data": {"name": "fits"},
 "mark": {"type": "line", "strokeWidth": 1, "interpolate": "monotone"},
 "encoding": {
  "x": {"field": "t", "type": "quantitative", "scale": {"domain": [0, 120], "nice": false}, "axis": {"values": [0,10,20,30,40,50,60,70,80,90,100,110,120], "labelExpr": "datum.value % 30 === 0 ? datum.label : ''", "title": "Time (min)", "labelPadding": 26, "titlePadding": 17}},
  "y": {"field": "v", "type": "quantitative", "scale": {"domain": [0, 0.9], "nice": false}, "axis": {"values": [0,0.1,0.2,0.3,0.4,0.5,0.6,0.7,0.8,0.9], "format": ".1f", "title": "Sodium expansion (%)", "labelPadding": 21, "titlePadding": 12}},
  "detail": {"field": "f"},
  "color": {"field": "f", "type": "nominal", "scale": {"domain": ["F005","F02","F05","F07","F08","F088","F10","F15"], "range": ["#222","#222","#a6a6a6","#a6a6a6","#222","#222","#a6a6a6","#a6a6a6"]}, "legend": null},
  "strokeDash": {"field": "f", "type": "nominal", "scale": {"domain": ["F005","F02","F05","F07","F08","F088","F10","F15"], "range": [[1,0],[3,2],[1,0],[3,2],[1,0],[3,2],[1,0],[3,2]]}, "legend": null}
 }
},
{"data": {"values": [{}]},
 "mark": {"type": "rule", "color": "#222", "strokeWidth": 2},
 "encoding": {"y": {"datum": 0.8025}}
},
{"data": {"name": "pts"},
 "mark": {"type": "point", "filled": true, "strokeWidth": 1, "size": 40, "opacity": 1},
 "encoding": {
  "x": {"field": "t", "type": "quantitative"},
  "y": {"field": "v", "type": "quantitative"},
  "shape": {"field": "s", "type": "nominal", "scale": {"domain": ["0.05 A/cm2","0.2 A/cm2","0.5 A/cm2","0.7 A/cm2","0.8 A/cm2","0.88 A/cm2","1.0 A/cm2","1.5 A/cm2"], "range": ["square","diamond","triangle-up","circle","square","diamond","triangle-up","circle"]}, "legend": {"title": null}},
  "fill": {"field": "s", "type": "nominal", "scale": {"domain": ["0.05 A/cm2","0.2 A/cm2","0.5 A/cm2","0.7 A/cm2","0.8 A/cm2","0.88 A/cm2","1.0 A/cm2","1.5 A/cm2"], "range": ["white","#222","white","#222","#222","white","#222","white"]}, "legend": {"title": null}},
  "stroke": {"field": "s", "type": "nominal", "scale": {"domain": ["0.05 A/cm2","0.2 A/cm2","0.5 A/cm2","0.7 A/cm2","0.8 A/cm2","0.88 A/cm2","1.0 A/cm2","1.5 A/cm2"], "range": ["#222","#222","#222","#222","#222","#222","#222","#222"]}, "legend": {"title": null}}
 }
}
]
}
